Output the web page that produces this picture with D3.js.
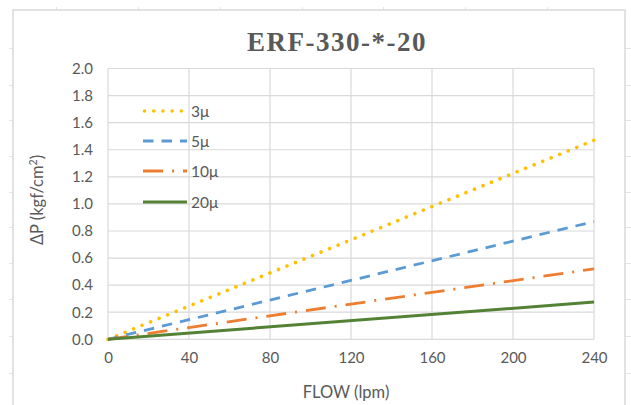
<!DOCTYPE html>
<html>
<head>
<meta charset="utf-8">
<script src="https://cdn.jsdelivr.net/npm/d3@7"></script>
<style>
  html, body { margin: 0; padding: 0; background: #fff; }
  svg { display: block; }
</style>
</head>
<body>
<svg id="chart" width="631" height="405"></svg>
<script>
// Pressure drop vs. flow for ERF-330-*-20 elements
const flow = [0, 240];
const dp3 = [0, 1.47];
const dp5 = [0, 0.87];
const dp10 = [0, 0.52];
const dp20 = [0, 0.275];
const seriesNames = ["3μ", "5μ", "10μ", "20μ"];
const xTicks = [0, 40, 80, 120, 160, 200, 240];
const yTicks = [0, 0.2, 0.4, 0.6, 0.8, 1.0, 1.2, 1.4, 1.6, 1.8, 2.0];

const series = [
  { name: seriesNames[0], values: dp3, color: "#FFC000", width: 3.6, dash: "0.01 9.2", cap: "round" },
  { name: seriesNames[1], values: dp5, color: "#5B9BD5", width: 2.8, dash: "10.5 8", cap: "butt" },
  { name: seriesNames[2], values: dp10, color: "#ED7D31", width: 2.8, dash: "20 9 2 9", cap: "butt" },
  { name: seriesNames[3], values: dp20, color: "#548235", width: 3, dash: null, cap: "butt" }
];

const svg = d3.select("#chart");
const plot = { left: 108, right: 594, top: 68.5, bottom: 339.3 };

// spreadsheet cell lines around the embedded chart
const bg = svg.append("g").attr("stroke", "#E3E3E3").attr("stroke-width", 1);
[48, 85, 120, 156, 192, 227, 263, 299, 336, 373].forEach(y => {
  bg.append("line").attr("x1", 9).attr("x2", 13).attr("y1", y + 0.5).attr("y2", y + 0.5);
  bg.append("line").attr("x1", 625).attr("x2", 631).attr("y1", y + 0.5).attr("y2", y + 0.5);
});
[56, 138, 220, 302, 383, 465, 547].forEach(x => {
  bg.append("line").attr("x1", x + 0.5).attr("x2", x + 0.5).attr("y1", 7).attr("y2", 10);
});

// chart frame
svg.append("rect")
  .attr("x", 13).attr("y", 10).attr("width", 612).attr("height", 420)
  .attr("fill", "#fff").attr("stroke", "#D9D9D9").attr("stroke-width", 1.5);

const x = d3.scaleLinear().domain([0, 240]).range([plot.left, plot.right]);
const y = d3.scaleLinear().domain([0, 2]).range([plot.bottom, plot.top]);

// gridlines
const grid = svg.append("g").attr("stroke", "#D9D9D9").attr("stroke-width", 1.2);
yTicks.forEach(t => {
  grid.append("line").attr("x1", plot.left).attr("x2", plot.right)
    .attr("y1", y(t)).attr("y2", y(t));
});
xTicks.forEach(t => {
  grid.append("line").attr("x1", x(t)).attr("x2", x(t))
    .attr("y1", plot.top).attr("y2", plot.bottom);
});

const font = "Lato, 'Liberation Sans', sans-serif";
const textColor = "#595959";

// axes (labels only, lines come from the grid)
const yAxis = d3.axisLeft(y).tickValues(yTicks).tickFormat(d3.format(".1f")).tickSize(0).tickPadding(15);
svg.append("g").attr("transform", `translate(${plot.left},0)`).call(yAxis)
  .call(g => g.select(".domain").remove())
  .selectAll("text").attr("font-family", font).attr("font-size", 15).attr("fill", textColor);

const xAxis = d3.axisBottom(x).tickValues(xTicks).tickFormat(d3.format("d")).tickSize(0).tickPadding(13);
svg.append("g").attr("transform", `translate(0,${plot.bottom})`).call(xAxis)
  .call(g => g.select(".domain").remove())
  .selectAll("text").attr("font-family", font).attr("font-size", 15).attr("fill", textColor);

// series lines
const line = d3.line().x((d, i) => x(flow[i])).y(d => y(d));
series.forEach(s => {
  svg.append("path")
    .datum(s.values)
    .attr("d", line)
    .attr("fill", "none")
    .attr("stroke", s.color)
    .attr("stroke-width", s.width)
    .attr("stroke-linecap", s.cap)
    .attr("stroke-dasharray", s.dash);
});

// legend
const legendRows = [111, 141, 171, 202];
series.forEach((s, i) => {
  const ly = legendRows[i];
  svg.append("line")
    .attr("x1", s.cap === "round" ? 144.5 : 143).attr("x2", 187)
    .attr("y1", ly).attr("y2", ly)
    .attr("stroke", s.color)
    .attr("stroke-width", s.width)
    .attr("stroke-linecap", s.cap)
    .attr("stroke-dasharray", s.dash);
  svg.append("text")
    .attr("x", 191).attr("y", ly + 5.5)
    .attr("font-family", font).attr("font-size", 15.5)
    .attr("fill", textColor)
    .text(s.name);
});

// title
svg.append("text")
  .attr("x", 337).attr("y", 50.7)
  .attr("text-anchor", "middle")
  .attr("font-family", "'Liberation Serif', 'Times New Roman', serif")
  .attr("font-weight", "bold")
  .attr("font-size", 27)
  .attr("letter-spacing", 1.5)
  .attr("fill", textColor)
  .text("ERF-330-*-20");

// axis titles
svg.append("text")
  .attr("x", 346).attr("y", 398)
  .attr("text-anchor", "middle")
  .attr("font-family", font).attr("font-size", 16.5)
  .attr("fill", textColor)
  .text("FLOW (lpm)");

const yTitle = svg.append("text")
  .attr("transform", "translate(43,200) rotate(-90)")
  .attr("text-anchor", "middle")
  .attr("font-family", font).attr("font-size", 16.5)
  .attr("fill", textColor);
yTitle.append("tspan").text("ΔP (kgf/cm");
yTitle.append("tspan").attr("font-size", 10.5).attr("dy", -6).text("2");
yTitle.append("tspan").attr("dy", 6).text(")");
</script>
</body>
</html>
